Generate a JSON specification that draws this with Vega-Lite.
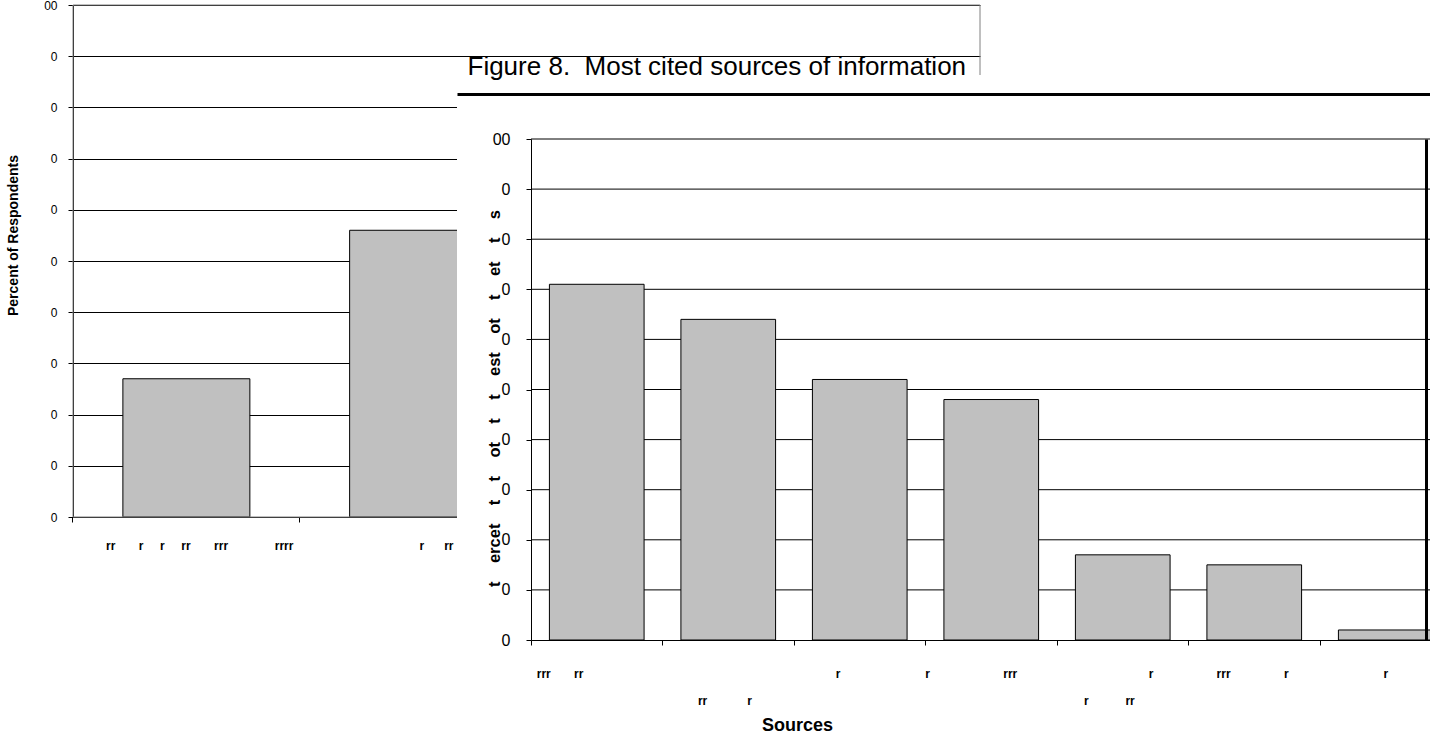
{
  "$schema": "https://vega.github.io/schema/vega-lite/v6.json",
  "width": 1430,
  "height": 738,
  "padding": 0,
  "autosize": {"type": "none"},
  "background": "white",
  "config": {
    "view": {"stroke": null},
    "font": "Liberation Sans",
    "axis": {
      "labelFont": "Liberation Sans",
      "titleFont": "Liberation Sans",
      "labelColor": "black",
      "titleColor": "black",
      "tickColor": "black",
      "domainColor": "black",
      "gridColor": "black",
      "gridOpacity": 1,
      "tickSize": 5,
      "labelAngle": 0
    }
  },
  "datasets": {
    "older": [
      {"source": "\u200b\u00a0\u00a0\u00a0\u00a0\u00a0\u00a0\u00a0\u00a0rr\u00a0\u00a0\u00a0\u00a0\u00a0\u00a0\u00a0r\u00a0\u00a0\u00a0\u00a0\u00a0r\u00a0\u00a0\u00a0\u00a0\u00a0rr\u00a0\u00a0\u00a0\u00a0\u00a0\u00a0\u00a0rrr\u00a0\u00a0\u00a0\u00a0\u00a0\u00a0\u00a0\u00a0\u00a0\u00a0\u00a0\u00a0\u00a0\u00a0rrrr", "pct": 27},
      {"source": "\u200b\u00a0\u00a0\u00a0\u00a0\u00a0\u00a0\u00a0\u00a0\u00a0\u00a0\u00a0\u00a0\u00a0\u00a0\u00a0\u00a0\u00a0\u00a0\u00a0\u00a0\u00a0\u00a0\u00a0\u00a0\u00a0\u00a0\u00a0r\u00a0\u00a0\u00a0\u00a0\u00a0\u00a0rr\u00a0\u00a0\u00a0\u00a0\u00a0\u00a0\u00a0\u00a0\u00a0\u00a0\u00a0\u00a0\u00a0\u200b", "pct": 56}
    ],
    "sources": [
      {"source": "\u200brrr\u00a0\u00a0\u00a0\u00a0\u00a0\u00a0\u00a0rr\u00a0\u00a0\u00a0\u00a0\u00a0\u00a0\u00a0\u00a0\u00a0\u00a0\u00a0\u00a0\u00a0\u00a0\u00a0\u00a0\u00a0\u00a0\u00a0\u00a0\u00a0\u00a0\u200b|", "pct": 71},
      {"source": "|\u200brr\u00a0\u00a0\u00a0\u00a0\u00a0\u00a0\u00a0\u00a0\u00a0\u00a0\u00a0\u00a0r\u00a0\u00a0\u200b", "pct": 64},
      {"source": "\u200br\u00a0\u00a0\u00a0\u00a0\u00a0\u00a0\u00a0\u00a0\u00a0\u00a0\u00a0\u00a0\u00a0\u200b|", "pct": 52},
      {"source": "\u200br\u00a0\u00a0\u00a0\u00a0\u00a0\u00a0\u00a0\u00a0\u00a0\u00a0\u00a0\u00a0\u00a0\u00a0\u00a0\u00a0\u00a0\u00a0\u00a0\u00a0\u00a0\u00a0rrr\u00a0\u00a0\u00a0\u00a0\u00a0\u00a0\u00a0\u00a0\u00a0\u00a0\u00a0\u00a0\u200b|", "pct": 48},
      {"source": "\u200b\u00a0\u00a0\u00a0\u00a0\u00a0\u00a0\u00a0\u00a0\u00a0\u00a0\u00a0\u00a0\u00a0\u00a0\u00a0\u00a0\u00a0r|\u200br\u00a0\u00a0\u00a0\u00a0\u00a0\u00a0\u00a0\u00a0\u00a0\u00a0\u00a0rr\u00a0\u00a0\u00a0\u00a0\u00a0\u00a0\u00a0\u00a0\u200b", "pct": 17},
      {"source": "\u200brrr\u00a0\u00a0\u00a0\u00a0\u00a0\u00a0\u00a0\u00a0\u00a0\u00a0\u00a0\u00a0\u00a0\u00a0\u00a0\u00a0r\u00a0\u200b|", "pct": 15},
      {"source": "r|", "pct": 2}
    ],
    "gridValues": [
      {"pct": 10}, {"pct": 20}, {"pct": 30}, {"pct": 40}, {"pct": 50},
      {"pct": 60}, {"pct": 70}, {"pct": 80}, {"pct": 90}, {"pct": 100}
    ],
    "single": [{}]
  },
  "layer": [
    {
      "data": {"name": "older"},
      "mark": {"type": "bar", "fill": "#c0c0c0", "stroke": "black", "strokeWidth": 1},
      "encoding": {
        "x": {
          "field": "source",
          "type": "nominal",
          "scale": {
            "domain": [
              "\u200b\u00a0\u00a0\u00a0\u00a0\u00a0\u00a0\u00a0\u00a0rr\u00a0\u00a0\u00a0\u00a0\u00a0\u00a0\u00a0r\u00a0\u00a0\u00a0\u00a0\u00a0r\u00a0\u00a0\u00a0\u00a0\u00a0rr\u00a0\u00a0\u00a0\u00a0\u00a0\u00a0\u00a0rrr\u00a0\u00a0\u00a0\u00a0\u00a0\u00a0\u00a0\u00a0\u00a0\u00a0\u00a0\u00a0\u00a0\u00a0rrrr",
              "\u200b\u00a0\u00a0\u00a0\u00a0\u00a0\u00a0\u00a0\u00a0\u00a0\u00a0\u00a0\u00a0\u00a0\u00a0\u00a0\u00a0\u00a0\u00a0\u00a0\u00a0\u00a0\u00a0\u00a0\u00a0\u00a0\u00a0\u00a0r\u00a0\u00a0\u00a0\u00a0\u00a0\u00a0rr\u00a0\u00a0\u00a0\u00a0\u00a0\u00a0\u00a0\u00a0\u00a0\u00a0\u00a0\u00a0\u00a0\u200b",
              "r\u00a0\u00a0\u00a0rr",
              "rr\u00a0\u00a0\u00a0r"
            ],
            "range": [73, 980],
            "paddingInner": 0.44,
            "paddingOuter": 0.22
          },
          "axis": {
            "orient": "bottom",
            "offset": -221,
            "title": null,
            "labelFontSize": 12,
            "labelFontWeight": "bold",
            "labelBaseline": "alphabetic",
            "labelPadding": 27,
            "labelLimit": 0,
            "labelOverlap": false,
            "bandPosition": -0.3929
          }
        },
        "y": {
          "field": "pct",
          "type": "quantitative",
          "scale": {"domain": [0, 100], "range": [517, 5], "nice": false},
          "axis": {
            "orient": "left",
            "offset": -73,
            "values": [0, 10, 20, 30, 40, 50, 60, 70, 80, 90, 100],
            "labelExpr": "datum.value == 100 ? '00' : '0'",
            "grid": true,
            "labelFontSize": 12,
            "labelPadding": 11,
            "title": "Percent of Respondents",
            "titleFontSize": 14,
            "titleFontWeight": "bold",
            "titleAngle": 270,
            "titleAlign": "center",
            "titleBaseline": "middle",
            "titleX": -60,
            "titleY": 235
          }
        }
      }
    },
    {
      "data": {"name": "single"},
      "mark": {"type": "rect", "filled": false, "stroke": "#808080", "strokeWidth": 1},
      "encoding": {
        "x": {
          "datum": 0,
          "type": "quantitative",
          "scale": {"domain": [0, 1], "range": [73, 980], "nice": false},
          "axis": null
        },
        "x2": {"datum": 1},
        "y": {
          "datum": 0,
          "type": "quantitative",
          "scale": {"domain": [0, 100], "range": [517, 5], "nice": false},
          "axis": null
        },
        "y2": {"datum": 100}
      }
    },
    {
      "data": {"name": "single"},
      "mark": {"type": "rect", "fill": "white", "stroke": null},
      "encoding": {
        "x": {
          "datum": 0,
          "type": "quantitative",
          "scale": {"domain": [0, 1], "range": [457, 1430], "nice": false},
          "axis": {
            "orient": "top",
            "offset": -94,
            "labels": false,
            "ticks": false,
            "grid": false,
            "domainWidth": 3,
            "zindex": 1,
            "title": "Figure 8.\u00a0 Most cited sources of information",
            "titleFontSize": 26,
            "titleFontWeight": "normal",
            "titleAlign": "left",
            "titleBaseline": "alphabetic",
            "titleX": 467,
            "titleY": -20
          }
        },
        "x2": {"datum": 1},
        "y": {
          "datum": 0,
          "type": "quantitative",
          "scale": {"domain": [0, 1], "range": [75, 738], "nice": false},
          "axis": null
        },
        "y2": {"datum": 1}
      }
    },
    {
      "data": {"name": "gridValues"},
      "mark": {"type": "rule", "stroke": "black", "strokeWidth": 1},
      "encoding": {
        "x": {
          "datum": 0,
          "type": "quantitative",
          "scale": {"domain": [0, 1], "range": [531, 1430], "nice": false},
          "axis": null
        },
        "x2": {"datum": 1},
        "y": {
          "field": "pct",
          "type": "quantitative",
          "scale": {"domain": [0, 100], "range": [640, 139], "nice": false},
          "axis": {
            "orient": "right",
            "offset": -4,
            "labels": false,
            "ticks": false,
            "grid": false,
            "title": null,
            "domainWidth": 3,
            "zindex": 1
          }
        }
      }
    },
    {
      "data": {"name": "sources"},
      "mark": {"type": "bar", "fill": "#c0c0c0", "stroke": "black", "strokeWidth": 1},
      "encoding": {
        "x": {
          "field": "source",
          "type": "nominal",
          "sort": null,
          "scale": {
            "range": [531, 1451.5],
            "paddingInner": 0.28,
            "paddingOuter": 0.14
          },
          "axis": {
            "orient": "bottom",
            "offset": -98,
            "zindex": 1,
            "labelExpr": "split(datum.label, '|')",
            "labelFontSize": 12,
            "labelFontWeight": "bold",
            "labelBaseline": "alphabetic",
            "labelLineHeight": 27,
            "labelPadding": 32,
            "labelLimit": 0,
            "labelOverlap": false,
            "bandPosition": -0.1944,
            "title": "Sources",
            "titleFontSize": 18,
            "titleFontWeight": "bold",
            "titleAlign": "center",
            "titleBaseline": "middle",
            "titleX": 797,
            "titleY": 85
          }
        },
        "y": {
          "field": "pct",
          "type": "quantitative",
          "scale": {"domain": [0, 100], "range": [640, 139], "nice": false},
          "axis": {
            "orient": "left",
            "offset": -531,
            "zindex": 1,
            "values": [0, 10, 20, 30, 40, 50, 60, 70, 80, 90, 100],
            "labelExpr": "datum.value == 100 ? '00' : '0'",
            "grid": false,
            "labelFontSize": 16,
            "labelPadding": 16,
            "title": "t\u00a0\u00a0\u00a0\u00a0ercet\u00a0\u00a0\u00a0\u00a0t\u00a0\u00a0\u00a0\u00a0t\u00a0\u00a0\u00a0\u00a0ot\u00a0\u00a0\u00a0\u00a0t\u00a0\u00a0\u00a0\u00a0t\u00a0\u00a0\u00a0\u00a0est\u00a0\u00a0\u00a0\u00a0ot\u00a0\u00a0\u00a0\u00a0t\u00a0\u00a0\u00a0\u00a0et\u00a0\u00a0\u00a0\u00a0t\u00a0\u00a0\u00a0\u00a0s",
            "titleFontSize": 16.5,
            "titleFontWeight": "bold",
            "titleAngle": 270,
            "titleAlign": "center",
            "titleBaseline": "middle",
            "titleX": -37,
            "titleY": 398
          }
        }
      }
    }
  ],
  "resolve": {
    "scale": {"x": "independent", "y": "independent"},
    "axis": {"x": "independent", "y": "independent"}
  }
}
